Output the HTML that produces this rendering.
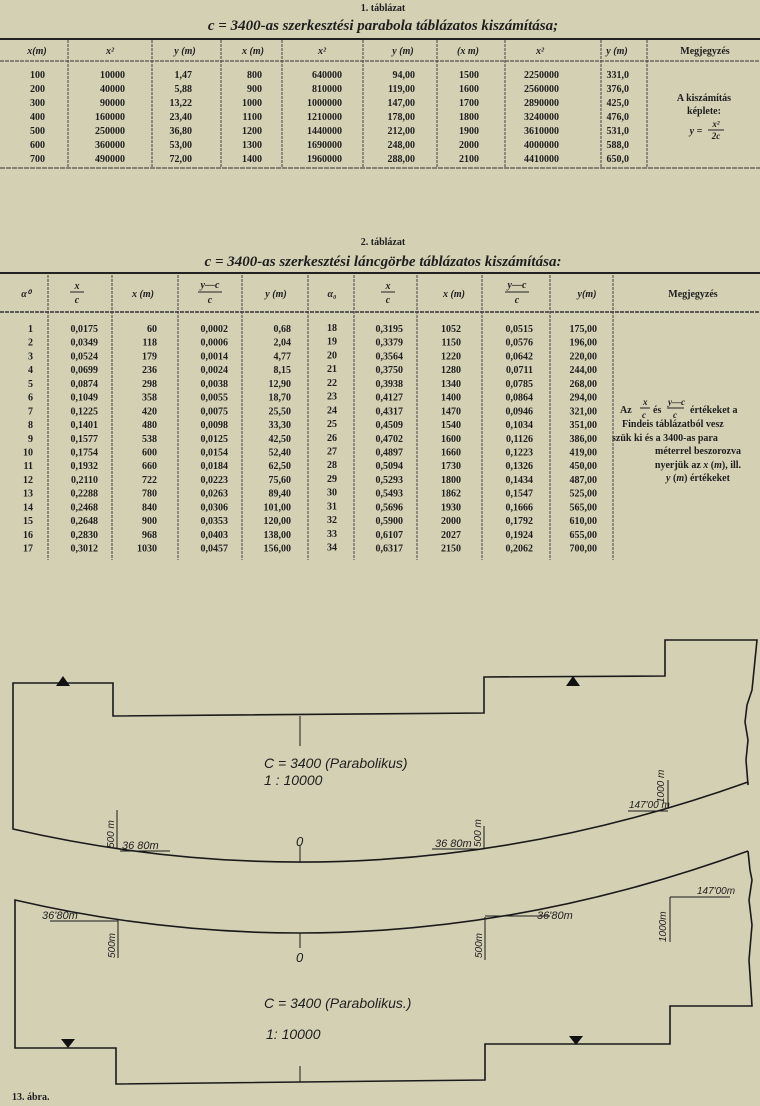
<!DOCTYPE html>
<html><head><meta charset="utf-8"><style>
html,body{margin:0;padding:0;background:#d4d0b4;}
svg{display:block}
.t{font-family:"Liberation Serif",serif;font-size:10px;font-weight:bold;fill:#1e1e1e}
.h{font-family:"Liberation Serif",serif;font-style:italic;font-weight:bold;fill:#1e1e1e}
.d{font-family:"Liberation Sans",sans-serif;font-style:italic;fill:#1e1e1e}
</style></head><body>
<svg width="760" height="1106" viewBox="0 0 760 1106" xmlns="http://www.w3.org/2000/svg">
<rect width="760" height="1106" fill="#d4d0b4"/>
<!-- TABLE 1 -->
<text class="t" x="383" y="11" text-anchor="middle" font-weight="normal">1. táblázat</text>
<text class="h" x="383" y="30" text-anchor="middle" font-size="15">c = 3400-as szerkesztési parabola táblázatos kiszámítása;</text>
<line x1="0" y1="39" x2="760" y2="39" stroke="#222" stroke-width="2"/>
<line x1="0" y1="61" x2="760" y2="61" stroke="#333" stroke-width="1" stroke-dasharray="4,1"/>
<line x1="0" y1="168" x2="760" y2="168" stroke="#333" stroke-width="1" stroke-dasharray="5,1"/>
<g stroke="#444" stroke-width="1" stroke-dasharray="3,1">
<line x1="68" y1="40" x2="68" y2="167"/><line x1="152" y1="40" x2="152" y2="167"/><line x1="221" y1="40" x2="221" y2="167"/>
<line x1="282" y1="40" x2="282" y2="167"/><line x1="363" y1="40" x2="363" y2="167"/><line x1="437" y1="40" x2="437" y2="167"/>
<line x1="505" y1="40" x2="505" y2="167"/><line x1="601" y1="40" x2="601" y2="167"/><line x1="647" y1="40" x2="647" y2="167"/>
</g>
<g class="t" text-anchor="middle" font-style="italic">
<text x="37" y="54">x(m)</text><text x="110" y="54">x²</text><text x="185" y="54">y (m)</text><text x="253" y="54">x (m)</text>
<text x="322" y="54">x²</text><text x="403" y="54">y (m)</text><text x="468" y="54">(x m)</text><text x="540" y="54">x²</text>
<text x="617" y="54">y (m)</text><text x="705" y="54" font-style="normal">Megjegyzés</text>
</g>
<g class="t" text-anchor="end">
<text x="45" y="78">100</text><text x="45" y="92">200</text><text x="45" y="106">300</text><text x="45" y="120">400</text><text x="45" y="134">500</text><text x="45" y="148">600</text><text x="45" y="162">700</text>
<text x="125" y="78">10000</text><text x="125" y="92">40000</text><text x="125" y="106">90000</text><text x="125" y="120">160000</text><text x="125" y="134">250000</text><text x="125" y="148">360000</text><text x="125" y="162">490000</text>
<text x="192" y="78">1,47</text><text x="192" y="92">5,88</text><text x="192" y="106">13,22</text><text x="192" y="120">23,40</text><text x="192" y="134">36,80</text><text x="192" y="148">53,00</text><text x="192" y="162">72,00</text>
<text x="262" y="78">800</text><text x="262" y="92">900</text><text x="262" y="106">1000</text><text x="262" y="120">1100</text><text x="262" y="134">1200</text><text x="262" y="148">1300</text><text x="262" y="162">1400</text>
<text x="342" y="78">640000</text><text x="342" y="92">810000</text><text x="342" y="106">1000000</text><text x="342" y="120">1210000</text><text x="342" y="134">1440000</text><text x="342" y="148">1690000</text><text x="342" y="162">1960000</text>
<text x="415" y="78">94,00</text><text x="415" y="92">119,00</text><text x="415" y="106">147,00</text><text x="415" y="120">178,00</text><text x="415" y="134">212,00</text><text x="415" y="148">248,00</text><text x="415" y="162">288,00</text>
<text x="479" y="78">1500</text><text x="479" y="92">1600</text><text x="479" y="106">1700</text><text x="479" y="120">1800</text><text x="479" y="134">1900</text><text x="479" y="148">2000</text><text x="479" y="162">2100</text>
<text x="559" y="78">2250000</text><text x="559" y="92">2560000</text><text x="559" y="106">2890000</text><text x="559" y="120">3240000</text><text x="559" y="134">3610000</text><text x="559" y="148">4000000</text><text x="559" y="162">4410000</text>
<text x="629" y="78">331,0</text><text x="629" y="92">376,0</text><text x="629" y="106">425,0</text><text x="629" y="120">476,0</text><text x="629" y="134">531,0</text><text x="629" y="148">588,0</text><text x="629" y="162">650,0</text>
</g>
<g class="t" text-anchor="middle">
<text x="704" y="101">A kiszámítás</text><text x="704" y="114">képlete:</text>
<text x="696" y="134" font-style="italic">y =</text>
<text x="716" y="127" font-style="italic" font-size="9">x²</text>
<line x1="708" y1="130" x2="724" y2="130" stroke="#222"/>
<text x="716" y="139" font-style="italic" font-size="9">2c</text>
</g>

<!-- TABLE 2 -->
<text class="t" x="383" y="245" text-anchor="middle" font-weight="normal">2. táblázat</text>
<text class="h" x="383" y="266" text-anchor="middle" font-size="15">c = 3400-as szerkesztési láncgörbe táblázatos kiszámítása:</text>
<line x1="0" y1="273" x2="760" y2="273" stroke="#222" stroke-width="2"/>
<line x1="0" y1="312" x2="760" y2="312" stroke="#333" stroke-width="1.5" stroke-dasharray="4,1"/>
<g stroke="#444" stroke-width="1" stroke-dasharray="3,1">
<line x1="48" y1="275" x2="48" y2="560"/><line x1="112" y1="275" x2="112" y2="560"/><line x1="178" y1="275" x2="178" y2="560"/>
<line x1="242" y1="275" x2="242" y2="560"/><line x1="308" y1="275" x2="308" y2="560"/><line x1="354" y1="275" x2="354" y2="560"/>
<line x1="417" y1="275" x2="417" y2="560"/><line x1="482" y1="275" x2="482" y2="560"/><line x1="550" y1="275" x2="550" y2="560"/>
<line x1="613" y1="275" x2="613" y2="560"/>
</g>
<g class="t" text-anchor="middle" font-style="italic">
<text x="26" y="297">α⁰</text>
<text x="77" y="289">x</text><line x1="70" y1="292" x2="84" y2="292" stroke="#222"/><text x="77" y="303">c</text>
<text x="143" y="297">x (m)</text>
<text x="210" y="288">y—c</text><line x1="198" y1="292" x2="222" y2="292" stroke="#222"/><text x="210" y="303">c</text>
<text x="276" y="297">y (m)</text>
<text x="332" y="297">α₀</text>
<text x="388" y="289">x</text><line x1="381" y1="292" x2="395" y2="292" stroke="#222"/><text x="388" y="303">c</text>
<text x="454" y="297">x (m)</text>
<text x="517" y="288">y—c</text><line x1="505" y1="292" x2="529" y2="292" stroke="#222"/><text x="517" y="303">c</text>
<text x="587" y="297">y(m)</text>
<text x="693" y="297" font-style="normal">Megjegyzés</text>
</g>
<g class="t" text-anchor="end">
<g>
<text x="33" y="332">1</text><text x="33" y="345.7">2</text><text x="33" y="359.4">3</text><text x="33" y="373.2">4</text><text x="33" y="386.9">5</text><text x="33" y="400.6">6</text><text x="33" y="414.3">7</text><text x="33" y="428">8</text><text x="33" y="441.8">9</text><text x="33" y="455.5">10</text><text x="33" y="469.2">11</text><text x="33" y="482.9">12</text><text x="33" y="496.6">13</text><text x="33" y="510.4">14</text><text x="33" y="524.1">15</text><text x="33" y="537.8">16</text><text x="33" y="551.5">17</text>
</g>
<g>
<text x="98" y="332">0,0175</text><text x="98" y="345.7">0,0349</text><text x="98" y="359.4">0,0524</text><text x="98" y="373.2">0,0699</text><text x="98" y="386.9">0,0874</text><text x="98" y="400.6">0,1049</text><text x="98" y="414.3">0,1225</text><text x="98" y="428">0,1401</text><text x="98" y="441.8">0,1577</text><text x="98" y="455.5">0,1754</text><text x="98" y="469.2">0,1932</text><text x="98" y="482.9">0,2110</text><text x="98" y="496.6">0,2288</text><text x="98" y="510.4">0,2468</text><text x="98" y="524.1">0,2648</text><text x="98" y="537.8">0,2830</text><text x="98" y="551.5">0,3012</text>
</g>
<g>
<text x="157" y="332">60</text><text x="157" y="345.7">118</text><text x="157" y="359.4">179</text><text x="157" y="373.2">236</text><text x="157" y="386.9">298</text><text x="157" y="400.6">358</text><text x="157" y="414.3">420</text><text x="157" y="428">480</text><text x="157" y="441.8">538</text><text x="157" y="455.5">600</text><text x="157" y="469.2">660</text><text x="157" y="482.9">722</text><text x="157" y="496.6">780</text><text x="157" y="510.4">840</text><text x="157" y="524.1">900</text><text x="157" y="537.8">968</text><text x="157" y="551.5">1030</text>
</g>
<g>
<text x="228" y="332">0,0002</text><text x="228" y="345.7">0,0006</text><text x="228" y="359.4">0,0014</text><text x="228" y="373.2">0,0024</text><text x="228" y="386.9">0,0038</text><text x="228" y="400.6">0,0055</text><text x="228" y="414.3">0,0075</text><text x="228" y="428">0,0098</text><text x="228" y="441.8">0,0125</text><text x="228" y="455.5">0,0154</text><text x="228" y="469.2">0,0184</text><text x="228" y="482.9">0,0223</text><text x="228" y="496.6">0,0263</text><text x="228" y="510.4">0,0306</text><text x="228" y="524.1">0,0353</text><text x="228" y="537.8">0,0403</text><text x="228" y="551.5">0,0457</text>
</g>
<g>
<text x="291" y="332">0,68</text><text x="291" y="345.7">2,04</text><text x="291" y="359.4">4,77</text><text x="291" y="373.2">8,15</text><text x="291" y="386.9">12,90</text><text x="291" y="400.6">18,70</text><text x="291" y="414.3">25,50</text><text x="291" y="428">33,30</text><text x="291" y="441.8">42,50</text><text x="291" y="455.5">52,40</text><text x="291" y="469.2">62,50</text><text x="291" y="482.9">75,60</text><text x="291" y="496.6">89,40</text><text x="291" y="510.4">101,00</text><text x="291" y="524.1">120,00</text><text x="291" y="537.8">138,00</text><text x="291" y="551.5">156,00</text>
</g>
<g>
<text x="337" y="331">18</text><text x="337" y="344.7">19</text><text x="337" y="358.4">20</text><text x="337" y="372.2">21</text><text x="337" y="385.9">22</text><text x="337" y="399.6">23</text><text x="337" y="413.3">24</text><text x="337" y="427">25</text><text x="337" y="440.8">26</text><text x="337" y="454.5">27</text><text x="337" y="468.2">28</text><text x="337" y="481.9">29</text><text x="337" y="495.6">30</text><text x="337" y="509.4">31</text><text x="337" y="523.1">32</text><text x="337" y="536.8">33</text><text x="337" y="550.5">34</text>
</g>
<g>
<text x="403" y="332">0,3195</text><text x="403" y="345.7">0,3379</text><text x="403" y="359.4">0,3564</text><text x="403" y="373.2">0,3750</text><text x="403" y="386.9">0,3938</text><text x="403" y="400.6">0,4127</text><text x="403" y="414.3">0,4317</text><text x="403" y="428">0,4509</text><text x="403" y="441.8">0,4702</text><text x="403" y="455.5">0,4897</text><text x="403" y="469.2">0,5094</text><text x="403" y="482.9">0,5293</text><text x="403" y="496.6">0,5493</text><text x="403" y="510.4">0,5696</text><text x="403" y="524.1">0,5900</text><text x="403" y="537.8">0,6107</text><text x="403" y="551.5">0,6317</text>
</g>
<g>
<text x="461" y="332">1052</text><text x="461" y="345.7">1150</text><text x="461" y="359.4">1220</text><text x="461" y="373.2">1280</text><text x="461" y="386.9">1340</text><text x="461" y="400.6">1400</text><text x="461" y="414.3">1470</text><text x="461" y="428">1540</text><text x="461" y="441.8">1600</text><text x="461" y="455.5">1660</text><text x="461" y="469.2">1730</text><text x="461" y="482.9">1800</text><text x="461" y="496.6">1862</text><text x="461" y="510.4">1930</text><text x="461" y="524.1">2000</text><text x="461" y="537.8">2027</text><text x="461" y="551.5">2150</text>
</g>
<g>
<text x="533" y="332">0,0515</text><text x="533" y="345.7">0,0576</text><text x="533" y="359.4">0,0642</text><text x="533" y="373.2">0,0711</text><text x="533" y="386.9">0,0785</text><text x="533" y="400.6">0,0864</text><text x="533" y="414.3">0,0946</text><text x="533" y="428">0,1034</text><text x="533" y="441.8">0,1126</text><text x="533" y="455.5">0,1223</text><text x="533" y="469.2">0,1326</text><text x="533" y="482.9">0,1434</text><text x="533" y="496.6">0,1547</text><text x="533" y="510.4">0,1666</text><text x="533" y="524.1">0,1792</text><text x="533" y="537.8">0,1924</text><text x="533" y="551.5">0,2062</text>
</g>
<g>
<text x="597" y="332">175,00</text><text x="597" y="345.7">196,00</text><text x="597" y="359.4">220,00</text><text x="597" y="373.2">244,00</text><text x="597" y="386.9">268,00</text><text x="597" y="400.6">294,00</text><text x="597" y="414.3">321,00</text><text x="597" y="428">351,00</text><text x="597" y="441.8">386,00</text><text x="597" y="455.5">419,00</text><text x="597" y="469.2">450,00</text><text x="597" y="482.9">487,00</text><text x="597" y="496.6">525,00</text><text x="597" y="510.4">565,00</text><text x="597" y="524.1">610,00</text><text x="597" y="537.8">655,00</text><text x="597" y="551.5">700,00</text>
</g>
</g>
<g class="t">
<text x="620" y="413">Az</text>
<text x="643" y="405" font-style="italic" font-size="9">x</text><line x1="640" y1="408" x2="650" y2="408" stroke="#222"/><text x="642" y="418" font-style="italic" font-size="9">c</text>
<text x="653" y="413">és</text>
<text x="668" y="405" font-style="italic" font-size="9">y—c</text><line x1="667" y1="408" x2="684" y2="408" stroke="#222"/><text x="673" y="418" font-style="italic" font-size="9">c</text>
<text x="690" y="413">értékeket a</text>
<text x="622" y="427">Findeis táblázatból vesz</text>
<text x="612" y="441">szük ki és a 3400-as para</text>
<text x="698" y="454" text-anchor="middle">méterrel beszorozva</text>
<text x="698" y="468" text-anchor="middle">nyerjük az <tspan font-style="italic">x</tspan> (<tspan font-style="italic">m</tspan>), ill.</text>
<text x="698" y="481" text-anchor="middle"><tspan font-style="italic">y</tspan> (<tspan font-style="italic">m</tspan>) értékeket</text>
</g>

<!-- DIAGRAM -->
<g fill="none" stroke="#1a1a1a" stroke-width="1.6">
<path d="M748,782 L748,785 L746,760 L748,740 L745,722 L747,705 L752,690 L757,640 L665,640 L665,676 L484,677 L484,713 L113,716 L113,683 L13,683 L13,829 Q380.5,913.5 748,782"/>
<path d="M748,851 L750,870 L752,880 L749,900 L752,925 L749,960 L752,1006 L670,1006 L670,1044 L485,1044 L485,1080 L116,1084 L116,1048 L15,1048 L15,900 Q381.5,985 748,851"/>
</g>
<g stroke="#1a1a1a" stroke-width="1">
<line x1="300" y1="716" x2="300" y2="746"/>
<line x1="117" y1="810" x2="117" y2="849"/><line x1="120" y1="851" x2="170" y2="851"/>
<line x1="484" y1="826" x2="484" y2="849"/><line x1="432" y1="849" x2="484" y2="849"/>
<line x1="300" y1="845" x2="300" y2="862"/>
<line x1="668" y1="780" x2="668" y2="808"/><line x1="628" y1="811" x2="668" y2="811"/>
<line x1="50" y1="921" x2="118" y2="921"/><line x1="118" y1="920" x2="118" y2="958"/>
<line x1="300" y1="933" x2="300" y2="948"/>
<line x1="485" y1="917" x2="485" y2="960"/><line x1="485" y1="916" x2="550" y2="916"/>
<line x1="670" y1="897" x2="670" y2="942"/><line x1="670" y1="897" x2="730" y2="897"/>
<line x1="300" y1="1066" x2="300" y2="1082"/>
</g>
<g fill="#111">
<polygon points="56,686 70,686 63,676"/>
<polygon points="566,686 580,686 573,676"/>
<polygon points="61,1039 75,1039 68,1048"/>
<polygon points="569,1036 583,1036 576,1045"/>
</g>
<g class="d">
<text x="264" y="768" font-size="14">C = 3400   (Parabolikus)</text>
<text x="264" y="785" font-size="14">1 :  10000</text>
<text x="122" y="849" font-size="11">36 80m</text>
<text x="435" y="847" font-size="11">36 80m</text>
<text x="629" y="808" font-size="10">147'00 m</text>
<text x="296" y="846" font-size="13">0</text>
<text transform="translate(114,848) rotate(-90)" font-size="10">500 m</text>
<text transform="translate(481,847) rotate(-90)" font-size="10">500 m</text>
<text transform="translate(664,803) rotate(-90)" font-size="10">1000 m</text>
<text x="42" y="919" font-size="11">36'80m</text>
<text x="537" y="919" font-size="11">36'80m</text>
<text x="697" y="894" font-size="10">147'00m</text>
<text x="296" y="962" font-size="13">0</text>
<text transform="translate(115,958) rotate(-90)" font-size="10">500m</text>
<text transform="translate(482,958) rotate(-90)" font-size="10">500m</text>
<text transform="translate(666,942) rotate(-90)" font-size="10">1000m</text>
<text x="264" y="1008" font-size="14">C = 3400    (Parabolikus.)</text>
<text x="266" y="1039" font-size="14">1:  10000</text>
</g>
<text class="t" x="12" y="1100" font-size="9" font-weight="normal">13. ábra.</text>
</svg>
</body></html>
